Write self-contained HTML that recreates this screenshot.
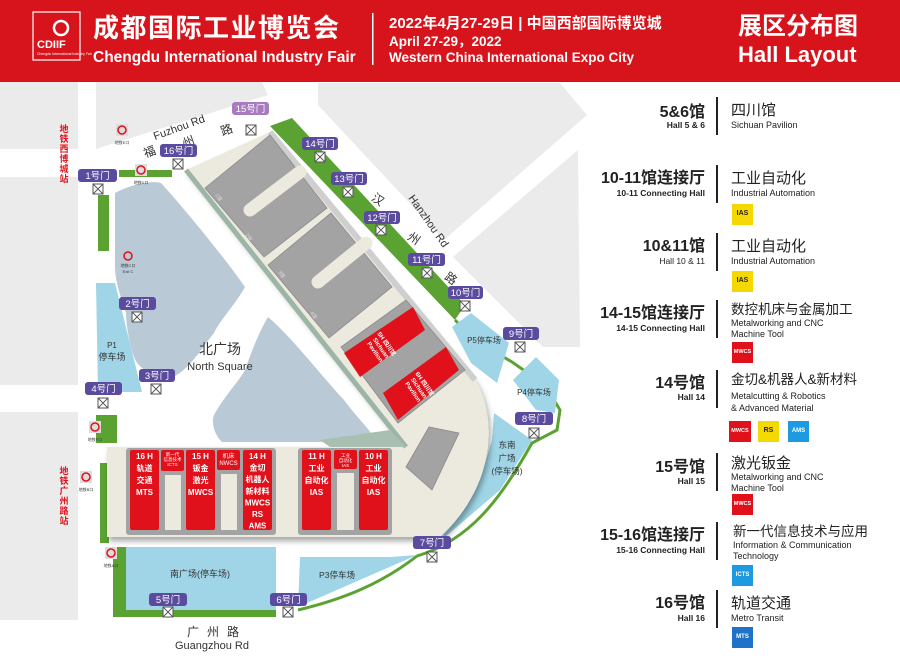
<!DOCTYPE html>
<html><head><meta charset="utf-8"><style>
html,body{margin:0;padding:0;background:#fff}
body{width:900px;height:663px;overflow:hidden;position:relative;font-family:"Liberation Sans","Noto Sans CJK SC",sans-serif}
svg text{font-family:"Liberation Sans","Noto Sans CJK SC",sans-serif}
</style></head><body>
<svg width="900" height="663" viewBox="0 0 900 663" xmlns="http://www.w3.org/2000/svg">
<defs>
<symbol id="xb" viewBox="0 0 11 11"><rect x="0.5" y="0.5" width="10" height="10" fill="#fff" stroke="#555"/><path d="M1 1L10 10M10 1L1 10" stroke="#555" stroke-width="0.9"/></symbol>
<filter id="sh" x="-10%" y="-10%" width="130%" height="130%"><feDropShadow dx="2" dy="4" stdDeviation="3" flood-color="#000" flood-opacity="0.35"/></filter>
</defs>
<rect width="900" height="663" fill="#fff"/>
<!-- header -->
<rect x="0" y="0" width="900" height="82" fill="#d7141c"/>
<rect x="33" y="12" width="47" height="48" fill="#d7141c" stroke="#fff" stroke-width="1.2"/>
<circle cx="61" cy="28" r="7" fill="none" stroke="#fff" stroke-width="2.5"/>
<text x="37" y="48" font-size="11" font-weight="bold" fill="#fff">CDIIF</text>
<text x="37" y="55" font-size="3.5" fill="#fff">Chengdu International Industry Fair</text>
<text x="93" y="37" font-size="26" font-weight="bold" fill="#fff" letter-spacing="1.5">成都国际工业博览会</text>
<text x="93" y="62" font-size="15.5" font-weight="bold" fill="#fff">Chengdu International Industry Fair</text>
<rect x="372" y="13" width="1.5" height="52" fill="#fff"/>
<text x="389" y="28" font-size="15" font-weight="bold" fill="#fff">2022年4月27-29日 | 中国西部国际博览城</text>
<text x="389" y="46" font-size="13.5" font-weight="bold" fill="#fff">April 27-29，2022</text>
<text x="389" y="62" font-size="13.5" font-weight="bold" fill="#fff">Western China International Expo City</text>
<text x="738" y="34" font-size="24" font-weight="bold" fill="#fff">展区分布图</text>
<text x="738" y="62" font-size="22" font-weight="bold" fill="#fff">Hall Layout</text>

<!-- background blocks -->
<g fill="#ebebeb">
<rect x="0" y="82" width="78" height="67"/>
<polygon points="96,82 262,82 268,95 96,149"/>
<rect x="0" y="177" width="78" height="208"/>
<rect x="0" y="412" width="78" height="208"/>
<polygon points="318,83 560,83 587,115 444,240 318,105"/>
<polygon points="578,150 580,347 543,347 453,257 578,150"/>
</g>

<!-- green strips -->
<g fill="#5aa332">
<polygon points="270,126 292,118 465,305 455,320"/>
<rect x="119" y="170" width="53" height="7"/>
<rect x="98" y="195" width="11" height="56"/>
<rect x="96" y="415" width="21" height="28"/>
<rect x="100" y="463" width="9" height="80"/>
<rect x="113" y="547" width="15" height="70"/>
<rect x="128" y="610" width="148" height="7"/>
</g>
<path d="M455,320 L475,340 L512,362 L545,385 L560,410 L557,430 L532,443 C500,500 470,540 417,556 C380,585 340,600 298,610" fill="none" stroke="#5aa332" stroke-width="3"/>

<!-- blue parking -->
<g fill="#9fd5e6">
<polygon points="96,283 115,283 142,392 98,392"/>
<polygon points="452,327 471,313 509,343 497,383 471,363"/>
<polygon points="513,380 536,357 559,380 555,413 536,410"/>
<polygon points="494,413 532,440 500,490 445,537 440,530 480,480 492,440"/>
<rect x="126" y="547" width="150" height="63"/>
<polygon points="300,557 390,557 417,555 298,607"/>
</g>

<!-- lakes -->
<path d="M115,193 C130,185 150,180 161,183 C190,215 230,265 245,287 C235,305 220,320 214,333 C200,350 190,370 168,380 C150,375 138,368 134,357 C128,340 126,320 126,313 C120,295 115,280 115,267 Z" fill="#b9cad6"/>
<path d="M268,317 C290,335 325,380 344,400 C355,415 368,428 371,433 L360,442 L222,442 C212,432 212,420 214,415 C225,395 240,380 245,370 C252,350 260,330 268,317 Z" fill="#b9cad6"/>

<!-- main complex -->
<g filter="url(#sh)">
<path d="M186,170 L270,132 L475,380 C497,415 497,485 440,537 L107,537 L107,447 L406,447 Z" fill="#eceadf"/>
</g>
<path d="M186,170 L406,447" stroke="#9db5a6" stroke-width="5"/>
<polygon points="330,447 406,447 390,430 320,440" fill="#a8bfb1"/>
<path d="M270,132 L475,380" stroke="#cfcfcf" stroke-width="6"/>
<!-- halls -->
<g fill="#a3a3a3" stroke="#8a8a8a" stroke-width="0.8">
<polygon points="205,188 270,135 327,208 264,257"/>
<polygon points="268,265 331,213 392,287 329,338"/>
<polygon points="341,347 406,300 465,370 398,423"/>
<polygon points="406,467 429,427 459,433 432,490"/>
</g>
<path d="M250,210 L300,172" stroke="#eceadf" stroke-width="13" stroke-linecap="round"/>
<path d="M318,282 L366,243" stroke="#eceadf" stroke-width="13" stroke-linecap="round"/>
<g fill="#e0111b">
<polygon points="344,353 413,307 425,330 360,377"/>
<polygon points="383,393 446,347 459,370 398,420"/>
</g>
<text transform="translate(385,345) rotate(55)" font-size="6" fill="#fff" font-weight="bold" text-anchor="middle">5H 四川馆<tspan x="0" dy="7">Sichuan</tspan><tspan x="0" dy="7">Pavilion</tspan></text>
<text transform="translate(423,385) rotate(55)" font-size="6" fill="#fff" font-weight="bold" text-anchor="middle">6H 四川馆<tspan x="0" dy="7">Sichuan</tspan><tspan x="0" dy="7">Pavilion</tspan></text>
<g font-size="5" fill="#ddd">
<text transform="translate(215,195) rotate(55)">1馆</text>
<text transform="translate(245,235) rotate(55)">2馆</text>
<text transform="translate(278,272) rotate(55)">3馆</text>
<text transform="translate(310,313) rotate(55)">4馆</text>
</g>

<!-- bottom halls -->
<rect x="126" y="448" width="150" height="87" fill="#a3a3a3" rx="3"/>
<rect x="298" y="448" width="94" height="87" fill="#a3a3a3" rx="3"/>
<g fill="#e0111b">
<rect x="130" y="450" width="29" height="80" rx="2"/>
<rect x="161" y="450" width="23" height="21" rx="2"/>
<rect x="186" y="450" width="29" height="80" rx="2"/>
<rect x="217" y="450" width="23" height="20" rx="2"/>
<rect x="243" y="450" width="29" height="80" rx="2"/>
<rect x="302" y="450" width="29" height="80" rx="2"/>
<rect x="334" y="450" width="23" height="19" rx="2"/>
<rect x="359" y="450" width="29" height="80" rx="2"/>
</g>
<g fill="#eceadf">
<rect x="165" y="475" width="16" height="55"/>
<rect x="221" y="474" width="16" height="56"/>
<rect x="337" y="473" width="17" height="57"/>
</g>
<g font-size="8" font-weight="bold" fill="#fff" text-anchor="middle">
<text x="144.5" y="459">16 H<tspan x="144.5" dy="12">轨道</tspan><tspan x="144.5" dy="12">交通</tspan><tspan x="144.5" dy="12">MTS</tspan></text>
<text x="200.5" y="459">15 H<tspan x="200.5" dy="12">钣金</tspan><tspan x="200.5" dy="12">激光</tspan><tspan x="200.5" dy="12">MWCS</tspan></text>
<text x="257.5" y="459">14 H<tspan x="257.5" dy="11.6">金切</tspan><tspan x="257.5" dy="11.6">机器人</tspan><tspan x="257.5" dy="11.6">新材料</tspan><tspan x="257.5" dy="11.6">MWCS</tspan><tspan x="257.5" dy="11.6">RS</tspan><tspan x="257.5" dy="11.6">AMS</tspan></text>
<text x="316.5" y="459">11 H<tspan x="316.5" dy="12">工业</tspan><tspan x="316.5" dy="12">自动化</tspan><tspan x="316.5" dy="12">IAS</tspan></text>
<text x="373.5" y="459">10 H<tspan x="373.5" dy="12">工业</tspan><tspan x="373.5" dy="12">自动化</tspan><tspan x="373.5" dy="12">IAS</tspan></text>
</g>
<g font-size="4.5" fill="#fff" text-anchor="middle">
<text x="172.5" y="456">新一代<tspan x="172.5" dy="5">信息技术</tspan><tspan x="172.5" dy="5">ICTS</tspan></text>
<text x="228.5" y="458" font-size="6">机床<tspan x="228.5" dy="7">NWCS</tspan></text>
<text x="345.5" y="457">工业<tspan x="345.5" dy="5">自动化</tspan><tspan x="345.5" dy="5">IAS</tspan></text>
</g>

<!-- labels on map -->
<g fill="#333">
<text transform="translate(155,140) rotate(-20)" font-size="11">Fuzhou Rd</text>
<text x="143" y="156" font-size="12" transform="rotate(-20 149 150)">福</text>
<text x="182" y="146" font-size="12" transform="rotate(-20 188 140)">州</text>
<text x="220" y="134" font-size="12" transform="rotate(-20 226 128)">路</text>
<text transform="translate(408,198) rotate(55)" font-size="11">Hanzhou Rd</text>
<text x="373" y="204" font-size="12" transform="rotate(35 379 198)">汉</text>
<text x="409" y="243" font-size="12" transform="rotate(35 415 237)">州</text>
<text x="446" y="283" font-size="12" transform="rotate(35 452 277)">路</text>
<text x="220" y="354" font-size="14" text-anchor="middle">北广场</text>
<text x="220" y="370" font-size="11" text-anchor="middle">North Square</text>
<text x="112" y="348" font-size="8" text-anchor="middle">P1</text>
<text x="112" y="360" font-size="9" text-anchor="middle">停车场</text>
<text x="484" y="343" font-size="8" text-anchor="middle">P5停车场</text>
<text x="534" y="395" font-size="8" text-anchor="middle">P4停车场</text>
<text x="507" y="448" font-size="8.5" text-anchor="middle">东南</text>
<text x="507" y="461" font-size="8.5" text-anchor="middle">广场</text>
<text x="507" y="474" font-size="8.5" text-anchor="middle">(停车场)</text>
<text x="200" y="577" font-size="9" text-anchor="middle">南广场(停车场)</text>
<text x="337" y="578" font-size="8.5" text-anchor="middle">P3停车场</text>
<text x="217" y="636" font-size="12" text-anchor="middle" letter-spacing="8">广州路</text>
<text x="212" y="649" font-size="11" text-anchor="middle">Guangzhou Rd</text>
</g>
<g fill="#e0111b" font-size="9" font-weight="bold" text-anchor="middle">
<text x="64" y="132">地<tspan x="64" dy="10">铁</tspan><tspan x="64" dy="10">西</tspan><tspan x="64" dy="10">博</tspan><tspan x="64" dy="10">城</tspan><tspan x="64" dy="10">站</tspan></text>
<text x="64" y="474">地<tspan x="64" dy="10">铁</tspan><tspan x="64" dy="10">广</tspan><tspan x="64" dy="10">州</tspan><tspan x="64" dy="10">路</tspan><tspan x="64" dy="10">站</tspan></text>
</g>
<!-- metro icons -->
<g>
<g transform="translate(122,130)"><rect x="-6" y="-6" width="12" height="12" fill="#ddd"/><circle r="4" fill="none" stroke="#e0111b" stroke-width="1.5"/><text y="14" font-size="4" text-anchor="middle" fill="#333">地铁E口</text></g>
<g transform="translate(141,170)"><rect x="-6" y="-6" width="12" height="12" fill="#ddd"/><circle r="4" fill="none" stroke="#e0111b" stroke-width="1.5"/><text y="14" font-size="4" text-anchor="middle" fill="#333">地铁D口</text></g>
<g transform="translate(128,256)"><circle r="4" fill="none" stroke="#e0111b" stroke-width="1.5"/><text y="11" font-size="4" text-anchor="middle" fill="#333">地铁C口</text><text y="17" font-size="4" text-anchor="middle" fill="#333">Exit C</text></g>
<g transform="translate(95,427)"><rect x="-6" y="-6" width="12" height="12" fill="#ddd"/><circle r="4" fill="none" stroke="#e0111b" stroke-width="1.5"/><text y="14" font-size="4" text-anchor="middle" fill="#333">地铁F口</text></g>
<g transform="translate(86,477)"><rect x="-6" y="-6" width="12" height="12" fill="#ddd"/><circle r="4" fill="none" stroke="#e0111b" stroke-width="1.5"/><text y="14" font-size="4" text-anchor="middle" fill="#333">地铁B口</text></g>
<g transform="translate(111,553)"><rect x="-6" y="-6" width="12" height="12" fill="#ddd"/><circle r="4" fill="none" stroke="#e0111b" stroke-width="1.5"/><text y="14" font-size="4" text-anchor="middle" fill="#333">地铁A口</text></g>
</g>

<!-- gates -->
<g font-size="9.5" fill="#fff" text-anchor="middle">
<rect x="232" y="102" width="37" height="13" rx="3" fill="#a77bbd"/><text x="250.5" y="112">15号门</text>
<rect x="160" y="144" width="37" height="13" rx="3" fill="#5b4b9e"/><text x="178.5" y="154">16号门</text>
<rect x="78" y="169" width="39" height="13" rx="3" fill="#5b4b9e"/><text x="97.5" y="179">1号门</text>
<rect x="302" y="137" width="36" height="13" rx="3" fill="#5b4b9e"/><text x="320" y="147">14号门</text>
<rect x="331" y="172" width="36" height="13" rx="3" fill="#5b4b9e"/><text x="349" y="182">13号门</text>
<rect x="364" y="211" width="36" height="13" rx="3" fill="#5b4b9e"/><text x="382" y="221">12号门</text>
<rect x="408" y="253" width="37" height="13" rx="3" fill="#5b4b9e"/><text x="426.5" y="263">11号门</text>
<rect x="448" y="286" width="35" height="13" rx="3" fill="#5b4b9e"/><text x="465.5" y="296">10号门</text>
<rect x="503" y="327" width="36" height="13" rx="3" fill="#5b4b9e"/><text x="521" y="337">9号门</text>
<rect x="515" y="412" width="38" height="13" rx="3" fill="#5b4b9e"/><text x="534" y="422">8号门</text>
<rect x="119" y="297" width="37" height="13" rx="3" fill="#5b4b9e"/><text x="137.5" y="307">2号门</text>
<rect x="139" y="369" width="36" height="13" rx="3" fill="#5b4b9e"/><text x="157" y="379">3号门</text>
<rect x="85" y="382" width="37" height="13" rx="3" fill="#5b4b9e"/><text x="103.5" y="392">4号门</text>
<rect x="413" y="536" width="38" height="13" rx="3" fill="#5b4b9e"/><text x="432" y="546">7号门</text>
<rect x="149" y="593" width="38" height="13" rx="3" fill="#5b4b9e"/><text x="168" y="603">5号门</text>
<rect x="270" y="593" width="37" height="13" rx="3" fill="#5b4b9e"/><text x="288.5" y="603">6号门</text>
</g>
<g>
<use href="#xb" x="245.5" y="124.5" width="11" height="11"/>
<use href="#xb" x="172.5" y="158.5" width="11" height="11"/>
<use href="#xb" x="92.5" y="183.5" width="11" height="11"/>
<use href="#xb" x="314.5" y="151.5" width="11" height="11"/>
<use href="#xb" x="342.5" y="186.5" width="11" height="11"/>
<use href="#xb" x="375.5" y="224.5" width="11" height="11"/>
<use href="#xb" x="421.5" y="267.5" width="11" height="11"/>
<use href="#xb" x="459.5" y="300.5" width="11" height="11"/>
<use href="#xb" x="514.5" y="341.5" width="11" height="11"/>
<use href="#xb" x="528.5" y="427.5" width="11" height="11"/>
<use href="#xb" x="131.5" y="311.5" width="11" height="11"/>
<use href="#xb" x="150.5" y="383.5" width="11" height="11"/>
<use href="#xb" x="97.5" y="397.5" width="11" height="11"/>
<use href="#xb" x="426.5" y="551.5" width="11" height="11"/>
<use href="#xb" x="162.5" y="606.5" width="11" height="11"/>
<use href="#xb" x="282.5" y="606.5" width="11" height="11"/>
</g>

<!-- legend -->
<g fill="#222">
<g font-weight="bold" text-anchor="end">
<text x="705" y="117" font-size="16">5&amp;6馆</text><text x="705" y="128" font-size="8.5">Hall 5 &amp; 6</text>
<text x="705" y="183" font-size="16">10-11馆连接厅</text><text x="705" y="196" font-size="8.5">10-11 Connecting Hall</text>
<text x="705" y="251" font-size="16">10&amp;11馆</text><text x="705" y="264" font-size="8.5" font-weight="normal">Hall 10 &amp; 11</text>
<text x="705" y="318" font-size="16">14-15馆连接厅</text><text x="705" y="331" font-size="8.5">14-15 Connecting Hall</text>
<text x="705" y="388" font-size="16">14号馆</text><text x="705" y="400" font-size="8.5">Hall 14</text>
<text x="705" y="472" font-size="16">15号馆</text><text x="705" y="484" font-size="8.5">Hall 15</text>
<text x="705" y="540" font-size="16">15-16馆连接厅</text><text x="705" y="553" font-size="8.5">15-16 Connecting Hall</text>
<text x="705" y="608" font-size="16">16号馆</text><text x="705" y="621" font-size="8.5">Hall 16</text>
</g>
<g fill="#222">
<rect x="716" y="97" width="2" height="38"/>
<rect x="716" y="165" width="2" height="38"/>
<rect x="716" y="233" width="2" height="38"/>
<rect x="716" y="300" width="2" height="38"/>
<rect x="716" y="370" width="2" height="38"/>
<rect x="716" y="453" width="2" height="38"/>
<rect x="716" y="522" width="2" height="38"/>
<rect x="716" y="590" width="2" height="38"/>
</g>
<g font-size="9">
<text x="731" y="115" font-size="15">四川馆</text><text x="731" y="128">Sichuan Pavilion</text>
<text x="731" y="183" font-size="15">工业自动化</text><text x="731" y="196">Industrial Automation</text>
<text x="731" y="251" font-size="15">工业自动化</text><text x="731" y="264">Industrial Automation</text>
<text x="731" y="314" font-size="13.5">数控机床与金属加工</text><text x="731" y="326">Metalworking and CNC</text><text x="731" y="337">Machine Tool</text>
<text x="731" y="384" font-size="13.5">金切&amp;机器人&amp;新材料</text><text x="731" y="399">Metalcutting &amp; Robotics</text><text x="731" y="411">&amp; Advanced Material</text>
<text x="731" y="468" font-size="15">激光钣金</text><text x="731" y="480">Metalworking and CNC</text><text x="731" y="491">Machine Tool</text>
<text x="733" y="536" font-size="13.5">新一代信息技术与应用</text><text x="733" y="548">Information &amp; Communication</text><text x="733" y="559">Technology</text>
<text x="731" y="608" font-size="15">轨道交通</text><text x="731" y="621">Metro Transit</text>
</g>
</g>
<g font-size="7" font-weight="bold" text-anchor="middle">
<rect x="732" y="204" width="21" height="21" fill="#f5d800"/><text x="742.5" y="215" fill="#222">IAS</text>
<rect x="732" y="271" width="21" height="21" fill="#f5d800"/><text x="742.5" y="282" fill="#222">IAS</text>
<rect x="732" y="342" width="21" height="21" fill="#e0111b"/><text x="742.5" y="353" fill="#fff" font-size="5.5">MWCS</text>
<rect x="729" y="421" width="22" height="21" fill="#e0111b"/><text x="740" y="432" fill="#fff" font-size="5.5">MWCS</text>
<rect x="758" y="421" width="21" height="21" fill="#f5d800"/><text x="768.5" y="432" fill="#222">RS</text>
<rect x="788" y="421" width="21" height="21" fill="#1e9be0"/><text x="798.5" y="432" fill="#fff" font-size="6">AMS</text>
<rect x="732" y="494" width="21" height="21" fill="#e0111b"/><text x="742.5" y="505" fill="#fff" font-size="5.5">MWCS</text>
<rect x="732" y="565" width="21" height="21" fill="#1e9be0"/><text x="742.5" y="576" fill="#fff" font-size="6">ICTS</text>
<rect x="732" y="627" width="21" height="21" fill="#1e73c8"/><text x="742.5" y="638" fill="#fff" font-size="6">MTS</text>
</g>
</svg>
</body></html>
